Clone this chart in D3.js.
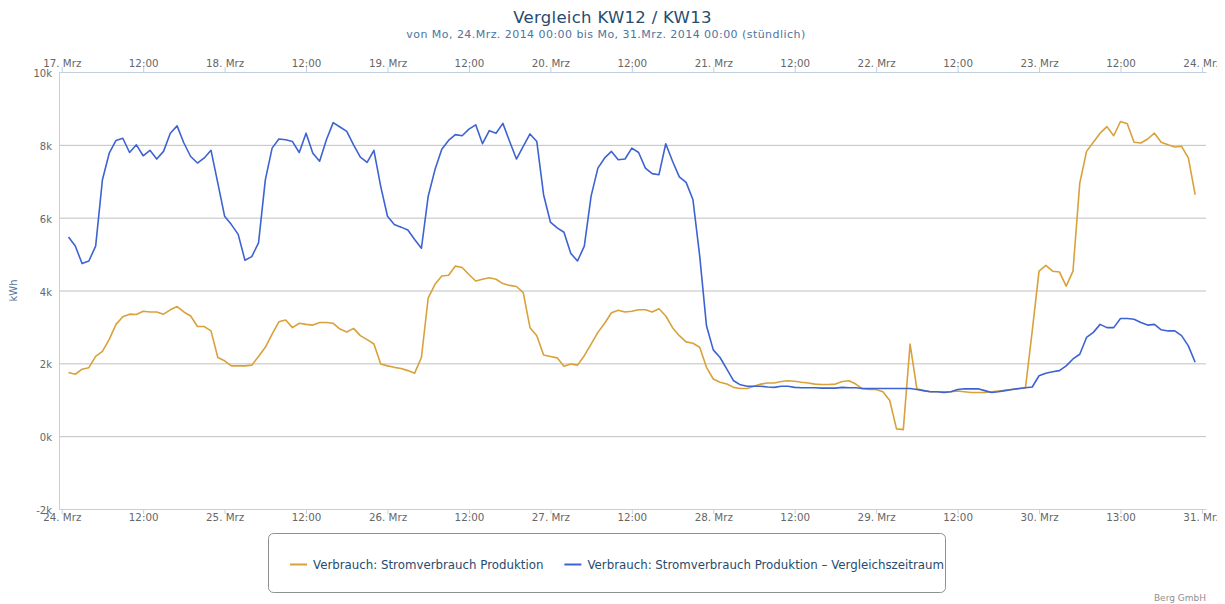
<!DOCTYPE html>
<html>
<head>
<meta charset="utf-8">
<script src="https://cdn.jsdelivr.net/npm/d3@7"></script>
<style>
  html, body { margin: 0; padding: 0; background: #fff; }
  svg { display: block; font-family: "Lucida Grande", "DejaVu Sans", sans-serif; }
</style>
</head>
<body>
<div id="chart"></div>
<script>
// Vergleich KW12 / KW13 - hourly power consumption, current week vs. comparison week

// Chart texts
const titleText = 'Vergleich KW12 / KW13';
const subtitleText = 'von Mo, 24.Mrz. 2014 00:00 bis Mo, 31.Mrz. 2014 00:00 (stündlich)';
const yAxisTitle = 'kWh';
const creditText = 'Berg GmbH';

// Tick labels, one every 12 hours
const bottomLabels = ['24. Mrz', '12:00', '25. Mrz', '12:00', '26. Mrz', '12:00', '27. Mrz', '12:00',
  '28. Mrz', '12:00', '29. Mrz', '12:00', '30. Mrz', '13:00', '31. Mrz'];
const topLabels = ['17. Mrz', '12:00', '18. Mrz', '12:00', '19. Mrz', '12:00', '20. Mrz', '12:00',
  '21. Mrz', '12:00', '22. Mrz', '12:00', '23. Mrz', '12:00', '24. Mrz'];
const yTicks = [-2000, 0, 2000, 4000, 6000, 8000, 10000];

// Series names
const seriesNames = ['Verbrauch: Stromverbrauch Produktion',
  'Verbrauch: Stromverbrauch Produktion \u2013 Vergleichszeitraum'];

// Hourly values (kWh), first value at 01:00
const firstHour = 1;
const verbrauch = [
  1750, 1700, 1840, 1880, 2190, 2330, 2660, 3070, 3280, 3350,
  3340, 3430, 3410, 3410, 3350, 3470, 3560, 3410, 3300, 3010,
  3010, 2890, 2160, 2070, 1930, 1930, 1930, 1950, 2190, 2440,
  2800, 3140, 3190, 2980, 3100, 3070, 3050, 3120, 3120, 3100,
  2940, 2860,
  2960, 2760, 2650, 2530, 1980, 1930, 1890, 1860, 1800, 1730,
  2160, 3800, 4170, 4400, 4420, 4670, 4630, 4440, 4260, 4310,
  4350, 4310, 4190, 4140, 4110, 3940, 2980, 2760, 2230, 2190,
  2150, 1920, 1980, 1950, 2210, 2530, 2850, 3100, 3390, 3460,
  3410, 3430,
  3470, 3470, 3410, 3500, 3300, 2980, 2760, 2590, 2550, 2440,
  1890, 1570, 1480, 1430, 1340, 1310,
  1310, 1370, 1430, 1460, 1460, 1500, 1520, 1510, 1480, 1460,
  1430, 1420, 1420, 1430, 1500, 1520, 1430, 1300, 1280,
  1280, 1220, 980, 200, 180, 2530, 1300,
  1250, 1220, 1220, 1220, 1220, 1240, 1220, 1200, 1200, 1200,
  1220, 1240, 1260, 1280, 1300, 1330, 2890, 4530, 4690, 4530,
  4510, 4120, 4530, 6950, 7820, 8070, 8320, 8500, 8250, 8640,
  8580, 8070, 8050, 8160, 8320, 8070, 8000, 7940, 7960, 7640,
  6630
];
const vergleich = [
  5470, 5220, 4740, 4810, 5220, 7040, 7770, 8120, 8180, 7790,
  8000, 7700, 7850, 7610, 7820, 8320, 8520, 8050, 7680, 7500,
  7640, 7850, 6950, 6040, 5810, 5540, 4830, 4930, 5310, 7040,
  7910, 8160, 8140, 8090, 7790, 8320, 7770, 7550, 8140, 8610,
  8490, 8370,
  8000, 7660, 7520, 7850, 6860, 6040, 5810, 5740, 5660, 5400,
  5160, 6590, 7320, 7880, 8120, 8280, 8250, 8430, 8550, 8030,
  8390, 8320, 8590, 8090, 7610, 7960, 8300, 8090, 6630, 5880,
  5720, 5600, 5020, 4810, 5220, 6590, 7360, 7640, 7820, 7590,
  7610, 7910,
  7790, 7360, 7210, 7180, 8030, 7550, 7120, 6970, 6500, 4950,
  3030, 2370, 2160, 1840, 1520, 1410,
  1370, 1370, 1370, 1350, 1340, 1370, 1370, 1340, 1330, 1330,
  1330, 1320, 1320, 1320, 1340, 1330, 1330, 1310, 1310, 1310,
  1310, 1310, 1310, 1310, 1310, 1280,
  1250, 1220, 1220, 1200, 1220, 1280, 1300, 1300, 1300, 1250,
  1200, 1220, 1250, 1280, 1310, 1330, 1350, 1660, 1730, 1770,
  1800, 1930, 2120, 2250, 2710, 2850, 3070, 2980, 2980, 3230,
  3230, 3210, 3120, 3050, 3070, 2920, 2890, 2890, 2760, 2480,
  2030
];

const colors = ['#d9a13b', '#3d63d2'];

// Layout
const width = 1217;
const height = 604;
const margin = { top: 72, right: 11, bottom: 95, left: 59 };
const plotW = width - margin.left - margin.right;
const plotH = height - margin.top - margin.bottom;

const svg = d3.select('#chart')
  .append('svg')
  .attr('width', width)
  .attr('height', height);

// Scales
const x = d3.scaleLinear().domain([-0.4, 168.6]).range([margin.left, margin.left + plotW]);
const y = d3.scaleLinear().domain([-2000, 10000]).range([margin.top + plotH, margin.top]);
const tickHours = bottomLabels.map((d, i) => i * 12);

// Title and subtitle
svg.append('text')
  .attr('x', 612.5)
  .attr('y', 23)
  .attr('text-anchor', 'middle')
  .style('font-size', '16.5px')
  .style('letter-spacing', '0.3px')
  .style('fill', '#274b6d')
  .text(titleText);

svg.append('text')
  .attr('x', 606)
  .attr('y', 38)
  .attr('text-anchor', 'middle')
  .style('font-size', '11px')
  .style('letter-spacing', '0.45px')
  .style('fill', '#4d759e')
  .text(subtitleText);

// Grid lines
svg.append('g')
  .attr('class', 'grid')
  .attr('transform', `translate(${margin.left},0)`)
  .call(d3.axisLeft(y).tickValues([0, 2000, 4000, 6000, 8000]).tickSize(-plotW).tickFormat(''))
  .call(g => g.select('.domain').remove())
  .call(g => g.selectAll('line').attr('stroke', '#c0c0c0').attr('stroke-width', 1));

// Y axis
svg.append('g')
  .attr('transform', `translate(${margin.left},0)`)
  .call(d3.axisLeft(y).tickValues(yTicks).tickSize(0).tickPadding(7).tickFormat(d => (d / 1000) + 'k'))
  .call(g => g.select('.domain').attr('stroke', '#c0d0e0'))
  .call(g => g.selectAll('text')
    .attr('dy', '0.45em')
    .style('font-size', '10px')
    .style('font-family', '"Lucida Grande", "DejaVu Sans", sans-serif')
    .style('fill', '#666'));

svg.append('text')
  .attr('transform', `translate(17,${margin.top + plotH / 2}) rotate(-90)`)
  .attr('text-anchor', 'middle')
  .style('font-size', '10px')
  .style('fill', '#4d759e')
  .text(yAxisTitle);

// X axes (bottom: this week, top: comparison week)
function styleXAxis(g) {
  g.select('.domain').attr('stroke', '#c0d0e0');
  g.selectAll('line').attr('stroke', '#c0d0e0');
  g.selectAll('text')
    .style('font-size', '10.3px')
    .style('font-family', '"Lucida Grande", "DejaVu Sans", sans-serif')
    .style('fill', '#666');
}

svg.append('g')
  .attr('transform', `translate(0,${margin.top + plotH})`)
  .call(d3.axisBottom(x).tickValues(tickHours).tickSize(5).tickSizeOuter(0).tickPadding(0)
    .tickFormat((d, i) => bottomLabels[i]))
  .call(styleXAxis);

svg.append('g')
  .attr('transform', `translate(0,${margin.top})`)
  .call(d3.axisTop(x).tickValues(tickHours).tickSize(5).tickSizeOuter(0).tickPadding(0)
    .tickFormat((d, i) => topLabels[i]))
  .call(styleXAxis);

// Lines
const line = d3.line()
  .x((d, i) => x(firstHour + i))
  .y(d => y(d));

[verbrauch, vergleich].forEach((values, i) => {
  svg.append('path')
    .datum(values)
    .attr('fill', 'none')
    .attr('stroke', colors[i])
    .attr('stroke-width', 1.6)
    .attr('stroke-linejoin', 'round')
    .attr('d', line);
});

// Legend
const legend = svg.append('g');
legend.append('rect')
  .attr('x', 268.5)
  .attr('y', 533.5)
  .attr('width', 677)
  .attr('height', 59)
  .attr('rx', 5)
  .attr('fill', '#fff')
  .attr('stroke', '#909090');

let itemX = 290;
seriesNames.forEach((name, i) => {
  legend.append('line')
    .attr('x1', itemX)
    .attr('x2', itemX + 17)
    .attr('y1', 564.5)
    .attr('y2', 564.5)
    .attr('stroke', colors[i])
    .attr('stroke-width', 2);
  const label = legend.append('text')
    .attr('x', itemX + 23)
    .attr('y', 568.5)
    .style('font-size', '11.8px')
    .style('fill', '#274b6d')
    .text(name);
  itemX += 23 + label.node().getComputedTextLength() + 21;
});

// Credit
svg.append('text')
  .attr('x', 1206)
  .attr('y', 601)
  .attr('text-anchor', 'end')
  .style('font-size', '9px')
  .style('fill', '#909090')
  .text(creditText);
</script>
</body>
</html>
